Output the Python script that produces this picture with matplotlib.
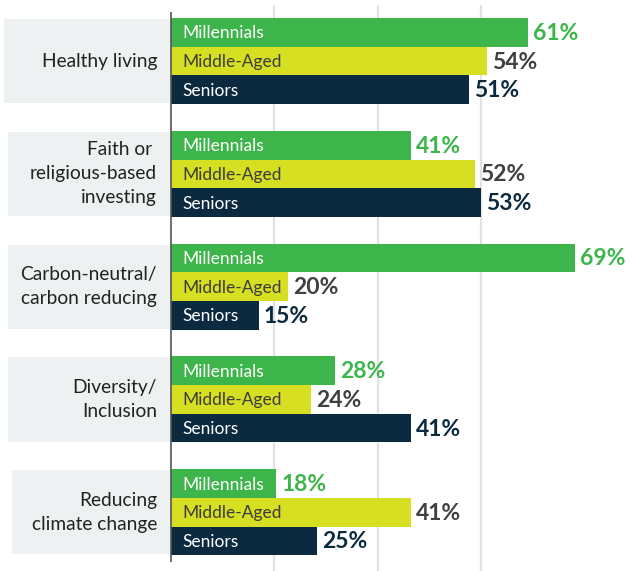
#!/usr/bin/env python3
"""
ESG 관심 주제별 세대 비교 가로 막대 차트.
출력: out.png
"""
import matplotlib
matplotlib.use("Agg")
import matplotlib.pyplot as plt
from matplotlib.patches import Rectangle

plt.rcParams["font.family"] = ["Lato", "DejaVu Sans"]

CATEGORIES = [
    "Healthy living",
    "Faith or \nreligious-based\ninvesting",
    "Carbon-neutral/\ncarbon reducing",
    "Diversity/\nInclusion",
    "Reducing\nclimate change",
]
GROUPS = ["Millennials", "Middle-Aged", "Seniors"]
MILLENNIALS = [61, 41, 69, 28, 18]
MIDDLE_AGED = [54, 52, 20, 24, 41]
SENIORS = [51, 53, 15, 41, 25]

BAR_COLORS = ["#3db54a", "#d6df21", "#0b2a3f"]
INNER_TEXT = ["white", "#3d3d3d", "white"]
VALUE_TEXT = ["#3db54a", "#404040", "#0b2a3f"]
BOX_COLOR = "#eef1f2"
GRID_COLOR = "#e2e2e2"

W, H = 634, 571
AX_LEFT = 171
PX_PER_PCT = 5.85
GROUP_TOP = 18
GROUP_STEP = 112.8
BAR_H = 28.7
BOX_LEFT = [4, 8, 8, 8, 12]


def main():
    fig = plt.figure(figsize=(W / 100, H / 100), dpi=100)

    # 배경 축 (라벨 박스, 카테고리 텍스트)
    bg = fig.add_axes([0, 0, 1, 1])
    bg.set_xlim(0, W)
    bg.set_ylim(H, 0)
    bg.axis("off")

    ax = fig.add_axes([AX_LEFT / W, 0, (W - AX_LEFT) / W, 1])
    ax.set_xlim(0, (W - AX_LEFT) / PX_PER_PCT)
    ax.set_ylim(H, 0)
    ax.axis("off")
    ax.patch.set_alpha(0)

    grid_step = 103.3 / PX_PER_PCT
    ax.vlines([grid_step * k for k in (1, 2, 3)], 5, H,
              colors=GRID_COLOR, linewidth=1.6, zorder=0)

    series = [MILLENNIALS, MIDDLE_AGED, SENIORS]
    for i, cat in enumerate(CATEGORIES):
        top = GROUP_TOP + i * GROUP_STEP
        box_top = top + 1
        box_h = 3 * BAR_H - 2
        bg.add_patch(Rectangle((BOX_LEFT[i], box_top), AX_LEFT - BOX_LEFT[i], box_h,
                               facecolor=BOX_COLOR, edgecolor="none"))
        bg.text(157, top + 1.5 * BAR_H, cat, ha="right", va="center",
                fontsize=13.8, color="#222222", linespacing=1.5)
        for k, vals in enumerate(series):
            yc = top + BAR_H * (k + 0.5)
            ax.barh(yc, vals[i], height=BAR_H, left=0, color=BAR_COLORS[k],
                    edgecolor="none", zorder=2)
            ax.text(11 / PX_PER_PCT, yc + 1, GROUPS[k], ha="left", va="center",
                    fontsize=12.5, color=INNER_TEXT[k], zorder=3)
            ax.annotate(f"{vals[i]}%", (vals[i], yc + 1), xytext=(5, 0),
                        textcoords="offset pixels", ha="left", va="center",
                        fontsize=16.5, fontweight="bold", color=VALUE_TEXT[k],
                        zorder=3)

    ax.vlines(0, 12, 562, colors="#555555", linewidth=1.2, zorder=4,
              clip_on=False)

    fig.savefig("out.png", dpi=100)
    plt.close(fig)


if __name__ == "__main__":
    main()
